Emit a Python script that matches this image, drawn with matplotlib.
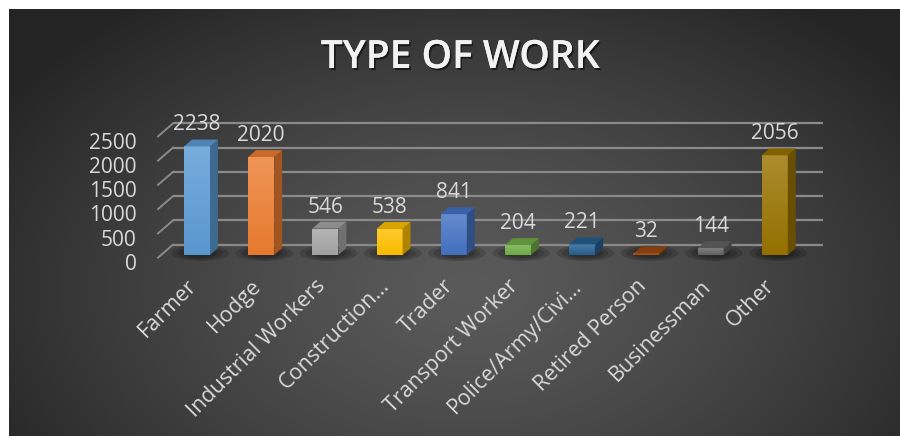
import numpy as np
import matplotlib
matplotlib.use("Agg")
import matplotlib.pyplot as plt
from matplotlib.patches import Polygon, Ellipse
import matplotlib.patheffects as pe
from matplotlib.colors import to_rgb

# ---------------- data ----------------
categories = ["Farmer", "Hodge", "Industrial Workers", "Construction\u2026", "Trader",
              "Transport Worker", "Police/Army/Civi\u2026", "Retired Person", "Businessman", "Other"]
values = [2238, 2020, 546, 538, 841, 204, 221, 32, 144, 2056]
bar_colors = ["#5B9BD5", "#ED7D31", "#A5A5A5", "#FFC000", "#4472C4",
              "#70AD47", "#255E91", "#9E480E", "#636363", "#997300"]
y_ticks = [0, 500, 1000, 1500, 2000, 2500]
title = "TYPE OF WORK"

FONT = ["Open Sans", "DejaVu Sans"]
TXT = "#d9d9d9"

W, H = 900, 439
fig = plt.figure(figsize=(W / 100, H / 100), dpi=100)
fig.patch.set_facecolor("white")

# ---------------- background panel (radial gradient) ----------------
bg = fig.add_axes([0, 0, 1, 1])
bg.set_xlim(0, W)
bg.set_ylim(H, 0)
bg.axis("off")
px0, px1, py0, py1 = 9, 900, 10, 437
xx, yy = np.meshgrid(np.linspace(px0, px1, 400), np.linspace(py0, py1, 200))
r = np.sqrt(((xx - 470) / 560) ** 2 + ((yy - 290) / 360) ** 2)
r = np.clip(r, 0, 1)
c_in = np.array(to_rgb("#5a5a5a"))
c_out = np.array(to_rgb("#242424"))
img = c_in[None, None, :] * (1 - r[..., None] ** 1.3) + c_out[None, None, :] * (r[..., None] ** 1.3)
bg.imshow(img, extent=(px0, px1, py1, py0), aspect="auto", interpolation="bilinear", zorder=0)

# ---------------- main axes, pseudo 3D ----------------
ax = fig.add_axes([0, 0, 1, 1])
ax.patch.set_alpha(0)
ax.axis("off")

PX_CAT = 64.2      # pixels per category
X0 = 194.0         # pixel x of category 0 at depth 0
PX_VAL = 0.0485    # pixels per value unit
Y0 = 258.6         # pixel y of value 0 at depth 0
DU = 15 / PX_CAT   # depth offset per unit z (x)
DW = 13 / PX_VAL   # depth offset per unit z (y)

xlim = ((0 - X0) / PX_CAT, (W - X0) / PX_CAT)
ylim = ((Y0 - H) / PX_VAL, Y0 / PX_VAL)

n = len(categories)
edge_l, edge_r = -0.56, (n - 1) + 0.56

# gridlines: back wall + left side diagonal
for t in y_ticks:
    ax.plot([edge_l + DU, edge_r + DU], [t + DW, t + DW], color="#8a8a8a", lw=1.6,
            solid_capstyle="butt", zorder=1)
    ax.plot([edge_l, edge_l + DU], [t, t + DW], color="#8a8a8a", lw=1.4, zorder=1)
    ax.text(edge_l - 0.33, t - 70, f"{t}", ha="right", va="center_baseline", color=TXT,
            fontsize=15, family=FONT, zorder=5)

z0, dz = 0.2, 0.53
hw = 13 / PX_CAT


def shade(c, f):
    c = np.array(to_rgb(c))
    return tuple(np.clip(c * f, 0, 1))


def lighten(c, f):
    c = np.array(to_rgb(c))
    return tuple(np.clip(c + (1 - c) * f, 0, 1))


for i, (v, col) in enumerate(zip(values, bar_colors)):
    cx = i + z0 * DU
    base = z0 * DW
    uL, uR = cx - hw, cx + hw
    top = base + v
    # floor shadow
    for k, a in enumerate([0.15, 0.15, 0.18]):
        ax.add_patch(Ellipse((cx + 0.05, base + 40), 0.9 - 0.18 * k, 330 - 60 * k,
                             facecolor="black", edgecolor="none", alpha=a, zorder=2))
    # front face with vertical gradient
    rect = ax.bar(cx, v, width=2 * hw, bottom=base, color=col, zorder=3, linewidth=0)[0]
    grad = np.linspace(0, 1, 64)[:, None]
    ctop = np.array(lighten(col, 0.18))
    cbot = np.array(shade(col, 0.97))
    gimg = ctop[None, None, :] * grad[..., None] + cbot[None, None, :] * (1 - grad[..., None])
    im = ax.imshow(gimg, extent=(uL, uR, base, top), origin="lower", aspect="auto", zorder=3.1,
                   interpolation="bilinear")
    im.set_clip_path(rect)
    # side face
    side = [(uR, base), (uR, top), (uR + dz * DU, top + dz * DW), (uR + dz * DU, base + dz * DW)]
    ax.add_patch(Polygon(side, closed=True, facecolor=shade(col, 0.68), edgecolor="none", zorder=3.2))
    # top face
    topf = [(uL, top), (uR, top), (uR + dz * DU, top + dz * DW), (uL + dz * DU, top + dz * DW)]
    ax.add_patch(Polygon(topf, closed=True, facecolor=shade(col, 0.85), edgecolor="none", zorder=3.3))
    # data label
    ax.text(cx, top + 515, f"{v}", ha="center", va="center_baseline", color=TXT,
            fontsize=15, family=FONT, zorder=5)
    # category label
    ax.text(cx - 0.05, -500, categories[i], ha="right", va="center", rotation=45,
            rotation_mode="anchor", color=TXT, fontsize=15.5, family=FONT, zorder=5)

ax.set_xlim(*xlim)
ax.set_ylim(*ylim)

# ---------------- title ----------------
fig.text(460 / W, 1 - 59 / H, title, ha="center", va="center", color="#f2f2f2",
         fontsize=28, fontweight="semibold", family=FONT,
         path_effects=[pe.withSimplePatchShadow(offset=(1.2, -1.5), shadow_rgbFace="black", alpha=0.55),
                       pe.Normal()])

fig.savefig("out.png", dpi=100, facecolor="white")
